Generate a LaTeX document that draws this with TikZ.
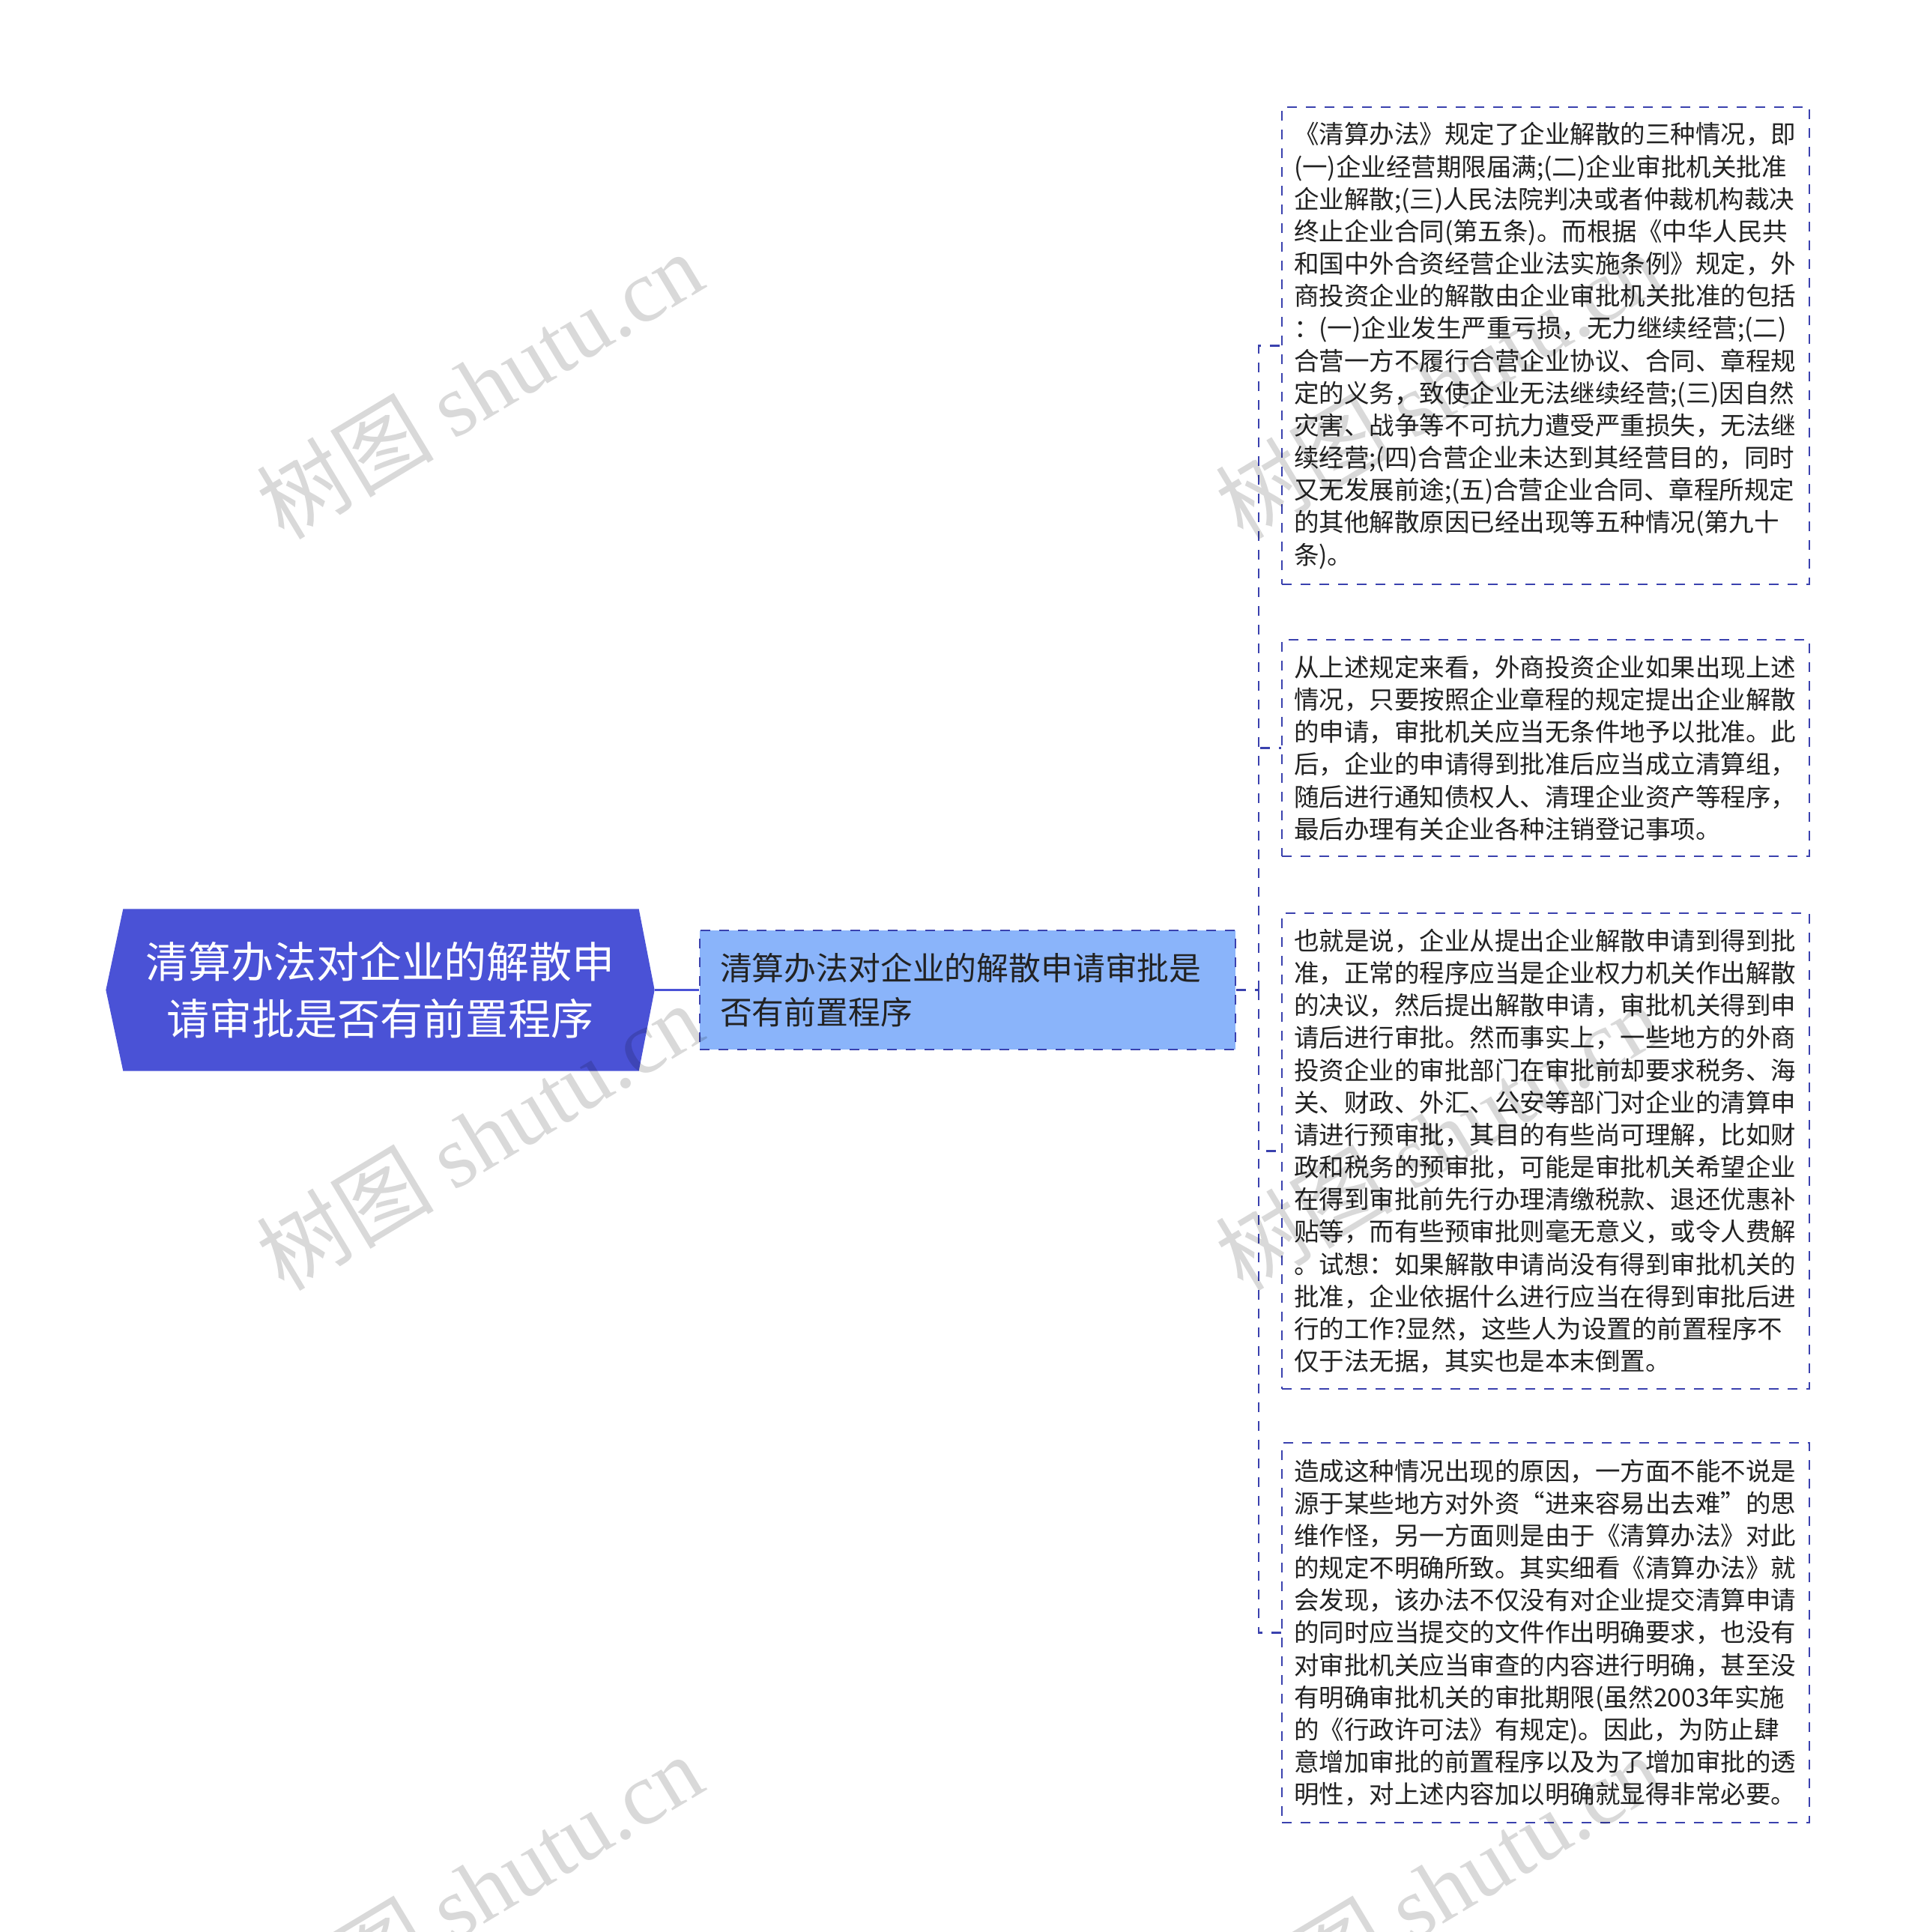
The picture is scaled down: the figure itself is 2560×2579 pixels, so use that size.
\documentclass[tikz,border=0pt]{standalone}
\usepackage{fontspec}
\setmainfont{Noto Sans CJK SC}
\newfontfamily\wmlatin{Liberation Serif}
\usetikzlibrary{backgrounds}
\definecolor{rootblue}{HTML}{4A52D6}
\definecolor{lightblue}{HTML}{8AB4FA}
\definecolor{edgeblue}{HTML}{3A41AE}
\definecolor{txt}{HTML}{222222}
\begin{document}
\begin{tikzpicture}[x=0.3pt,y=-0.3pt,
  dashpat/.style={dash pattern=on 3.9pt off 3.6pt},
  rootnode/.style={minimum width=731*0.3pt, minimum height=215*0.3pt, inner sep=0pt,
    align=center, text=white, font=\fontsize{17.1pt}{22.8pt}\selectfont},
  subnode/.style={draw=edgeblue, fill=lightblue, dashpat, line width=0.8pt,
    minimum height=159*0.3pt, inner xsep=27*0.3pt, inner ysep=0pt,
    text width=661*0.3pt, align=left, text=txt, font=\fontsize{12.85pt}{17.7pt}\selectfont},
  leafbox/.style={draw=edgeblue, dashpat, line width=0.8pt,
    inner xsep=16*0.3pt, inner ysep=0pt, text width=672*0.3pt,
    align=left, text=txt, font=\fontsize{10.05pt}{12.95pt}\selectfont},
  link/.style={draw=edgeblue, dashpat, line width=0.8pt},
  rootlink/.style={draw=rootblue, line width=0.8pt},
  wm/.style={rotate=31, text=black, opacity=0.15, inner sep=0pt,
    font=\fontsize{35.5pt}{38pt}\selectfont}
]
\useasboundingbox (0,0) rectangle (2560,2579);

% root
\node[rootnode] (root) at (507.5,1321.5) {清算办法对企业的解散申\\请审批是否有前置程序};

% second level
\node[subnode] (n2) at (1291.5,1321.5) {清算办法对企业的解散申请审批是\\否有前置程序};

% leaves
\node[leafbox, minimum height=637*0.3pt] (b1) at (2063,461.5) {《清算办法》规定了企业解散的三种情况，即\\
(一)企业经营期限届满;(二)企业审批机关批准\\
企业解散;(三)人民法院判决或者仲裁机构裁决\\
终止企业合同(第五条)。而根据《中华人民共\\
和国中外合资经营企业法实施条例》规定，外\\
商投资企业的解散由企业审批机关批准的包括\\
：(一)企业发生严重亏损，无力继续经营;(二)\\
合营一方不履行合营企业协议、合同、章程规\\
定的义务，致使企业无法继续经营;(三)因自然\\
灾害、战争等不可抗力遭受严重损失，无法继\\
续经营;(四)合营企业未达到其经营目的，同时\\
又无发展前途;(五)合营企业合同、章程所规定\\
的其他解散原因已经出现等五种情况(第九十\\
条)。};

\node[leafbox, minimum height=289*0.3pt] (b2) at (2063,998.5) {从上述规定来看，外商投资企业如果出现上述\\
情况，只要按照企业章程的规定提出企业解散\\
的申请，审批机关应当无条件地予以批准。此\\
后，企业的申请得到批准后应当成立清算组，\\
随后进行通知债权人、清理企业资产等程序，\\
最后办理有关企业各种注销登记事项。};

\node[leafbox, minimum height=635*0.3pt] (b3) at (2063,1536.5) {也就是说，企业从提出企业解散申请到得到批\\
准，正常的程序应当是企业权力机关作出解散\\
的决议，然后提出解散申请，审批机关得到申\\
请后进行审批。然而事实上，一些地方的外商\\
投资企业的审批部门在审批前却要求税务、海\\
关、财政、外汇、公安等部门对企业的清算申\\
请进行预审批，其目的有些尚可理解，比如财\\
政和税务的预审批，可能是审批机关希望企业\\
在得到审批前先行办理清缴税款、退还优惠补\\
贴等，而有些预审批则毫无意义，或令人费解\\
。试想：如果解散申请尚没有得到审批机关的\\
批准，企业依据什么进行应当在得到审批后进\\
行的工作?显然，这些人为设置的前置程序不\\
仅于法无据，其实也是本末倒置。};

\node[leafbox, minimum height=507*0.3pt] (b4) at (2063,2179.5) {造成这种情况出现的原因，一方面不能不说是\\
源于某些地方对外资“进来容易出去难”的思\\
维作怪，另一方面则是由于《清算办法》对此\\
的规定不明确所致。其实细看《清算办法》就\\
会发现，该办法不仅没有对企业提交清算申请\\
的同时应当提交的文件作出明确要求，也没有\\
对审批机关应当审查的内容进行明确，甚至没\\
有明确审批机关的审批期限(虽然2003年实施\\
的《行政许可法》有规定)。因此，为防止肆\\
意增加审批的前置程序以及为了增加审批的透\\
明性，对上述内容加以明确就显得非常必要。};

% connectors
\draw[rootlink] (root.east) -- (n2.west);
\coordinate (hub) at (1680,1321.5);
\draw[link] (n2.east) -- (hub);
\draw[link] (hub) |- (b1.west);
\draw[link] (hub) |- (b2.west);
\draw[link] (hub) |- (b3.west);
\draw[link] (hub) |- (b4.west);

% background shapes
\begin{scope}[on background layer]
\fill[white] (0,0) rectangle (2560,2579);
\fill[rootblue] (root.west) -- ([xshift=23*0.3pt]root.north west)
  -- ([xshift=-21*0.3pt]root.north east) -- (root.east)
  -- ([xshift=-21*0.3pt]root.south east) -- ([xshift=23*0.3pt]root.south west) -- cycle;
\end{scope}

% watermarks
\node[wm] (wm1) at (640,514) {树图 {\wmlatin shutu.cn}};
\node[wm] (wm2) at (640,1517) {树图 {\wmlatin shutu.cn}};
\node[wm] (wm3) at (640,2520) {树图 {\wmlatin shutu.cn}};
\node[wm] (wm4) at (1920,514) {树图 {\wmlatin shutu.cn}};
\node[wm] (wm5) at (1920,1517) {树图 {\wmlatin shutu.cn}};
\node[wm] (wm6) at (1920,2520) {树图 {\wmlatin shutu.cn}};
\end{tikzpicture}
\end{document}
